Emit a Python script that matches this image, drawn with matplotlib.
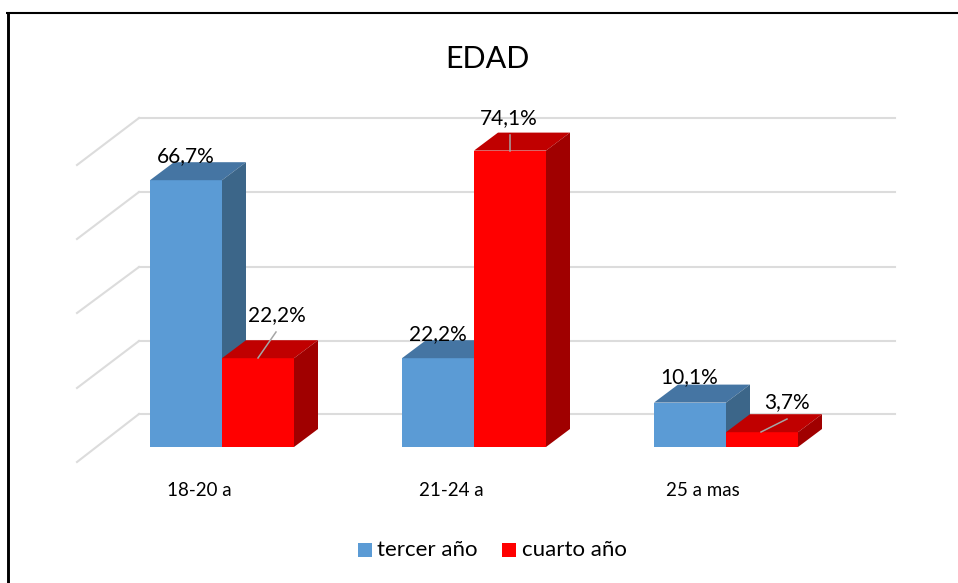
import matplotlib
matplotlib.use("Agg")
import matplotlib.pyplot as plt
from matplotlib.patches import Polygon, Rectangle

categories = ["18-20 a", "21-24 a", "25 a mas"]
series_names = ["tercer año", "cuarto año"]
tercer = [66.7, 22.2, 11.1]
cuarto = [22.2, 74.1, 3.7]
tercer_labels = ["66,7%", "22,2%", "10,1%"]
cuarto_labels = ["22,2%", "74,1%", "3,7%"]
grid_back = [8.25, 26.5, 45, 63.75, 82.25]
grid_front = [-3.75, 14.75, 33.5, 52, 70.5]

plt.rcParams['font.family'] = ['Lato', 'DejaVu Sans']

W, H = 958, 583
fig = plt.figure(figsize=(W / 100, H / 100), dpi=100)
ax = fig.add_axes([0, 0, 1, 1])

# 1 category = 252 px, 1 percent = 4 px, baseline at y=447
ax.set_xlim(-222 / 252, (W - 222) / 252)
ax.set_ylim((447 - H) / 4, 447 / 4)
ax.axis("off")

px = 1 / 252
py = 1 / 4
bar_w = 72 * px
dx = 24 * px
dy = 18 * py


def X(p):
    return (p - 222) * px


def Y(p):
    return (447 - p) * py


def bar3d(x0, h, front, top, side, z):
    ax.add_patch(Rectangle((x0, 0), bar_w, h, fc=front, ec="none", zorder=z))
    ax.add_patch(Polygon([(x0, h), (x0 + dx, h + dy), (x0 + bar_w + dx, h + dy), (x0 + bar_w, h)],
                         fc=top, ec="none", zorder=z))
    ax.add_patch(Polygon([(x0 + bar_w, 0), (x0 + bar_w + dx, dy), (x0 + bar_w + dx, h + dy), (x0 + bar_w, h)],
                         fc=side, ec="none", zorder=z))


# frame, only top and left show
ax.plot([X(6), X(958)], [Y(13), Y(13)], color="black", lw=1.5, zorder=1, solid_capstyle="butt")
ax.plot([X(7.5), X(7.5)], [Y(12), Y(583)], color="black", lw=2.1, zorder=1, solid_capstyle="butt")

# wall and floor gridlines
for gb, gf in zip(grid_back, grid_front):
    ax.plot([X(77), X(139)], [gf, gb], color="#DCDCDC", lw=1.5, zorder=1)
    ax.plot([X(139), X(895)], [gb, gb], color="#DCDCDC", lw=1.5, zorder=1)

for i in range(3):
    bar3d(i - bar_w, tercer[i], "#5B9BD5", "#4575A3", "#3C6689", 2 + i)
    bar3d(i, cuarto[i], "#FF0000", "#C00000", "#A00000", 2.5 + i)
    ax.text(i + X(199), Y(491), categories[i], ha="center", va="center", fontsize=13.5, zorder=10)

# data labels
lab_fs = 15
t_pos = [(186, 156), (438, 334), (689, 377)]
for i, lab in enumerate(tercer_labels):
    ax.text(X(t_pos[i][0]), Y(t_pos[i][1]), lab, ha="center", va="center", fontsize=lab_fs, zorder=10)

c_pos = [(277, 315), (509, 118), (787, 402)]
leaders = [((258, 358), (276, 332)), ((510, 151), (510, 135)), ((761, 432), (787, 419))]
for i, lab in enumerate(cuarto_labels):
    ax.text(X(c_pos[i][0]), Y(c_pos[i][1]), lab, ha="center", va="center", fontsize=lab_fs, zorder=10)
    (x1, y1), (x2, y2) = leaders[i]
    ax.plot([X(x1), X(x2)], [Y(y1), Y(y2)], color="#A6A6A6", lw=1.1, zorder=9)

ax.text(X(487), Y(59), "EDAD", ha="center", va="center", fontsize=22, zorder=10)

# legend
ax.add_patch(Rectangle((X(358), Y(557)), 14 * px, 14 * py, fc="#5B9BD5", ec="none", zorder=10))
ax.add_patch(Rectangle((X(502), Y(557)), 14 * px, 14 * py, fc="#FF0000", ec="none", zorder=10))
ax.text(X(377), Y(550), series_names[0], ha="left", va="center", fontsize=16, zorder=10)
ax.text(X(522), Y(550), series_names[1], ha="left", va="center", fontsize=16, zorder=10)

fig.savefig("out.png", dpi=100, facecolor="white")
